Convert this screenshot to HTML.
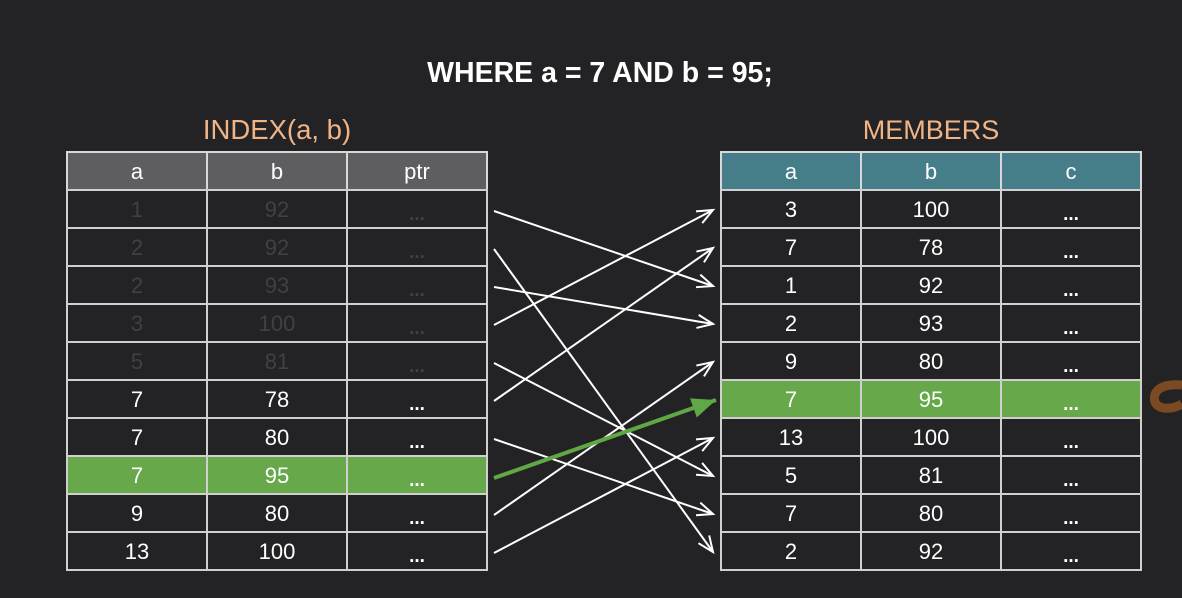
<!DOCTYPE html>
<html><head><meta charset="utf-8"><style>
html,body{margin:0;padding:0;background:#232224;width:1182px;height:598px;overflow:hidden}
svg{display:block;font-family:"Liberation Sans",sans-serif}
</style></head><body>
<svg id="s" width="1182" height="598">
<rect width="1182" height="598" fill="#232224"/>
<text x="600" y="82" text-anchor="middle" fill="#fff" font-size="28.5" font-weight="bold">WHERE a = 7 AND b = 95;</text>
<text x="277" y="139" text-anchor="middle" fill="#f0b487" font-size="27.5">INDEX(a, b)</text>
<text x="931" y="139" text-anchor="middle" fill="#f0b487" font-size="27">MEMBERS</text>
<g id="left"></g>
<g id="right"></g>
<g id="arrows"></g>
<path d="M1182 385 C1160 383 1152 392 1155 402 C1158 410 1172 410 1182 404" fill="none" stroke="#7a4a22" stroke-width="9"/>
</svg>
<script>
const idxA=["1","2","2","3","5","7","7","7","9","13"];
const idxB=["92","92","93","100","81","78","80","95","80","100"];
const idxFaded=[1,1,1,1,1,0,0,0,0,0];
const memA=["3","7","1","2","9","7","13","5","7","2"];
const memB=["100","78","92","93","80","95","100","81","80","92"];
const ptrTarget=[2,9,3,0,7,1,8,5,4,6];
const hiIdx=7, hiMem=5;
const NS="http://www.w3.org/2000/svg";
function mk(t,a,p){const e=document.createElementNS(NS,t);for(const k in a)e.setAttribute(k,a[k]);p.appendChild(e);return e;}
const top0=152,hh=38,rh=38,cw=140;
function rowY(i){return 190+i*rh;}
function table(g,x0,headers,headFill,colA,colB,faded,hi,third){
  for(let c=0;c<3;c++){
    const r=mk('rect',{x:x0+c*cw,y:top0,width:cw,height:hh,fill:headFill,stroke:'#d8d8d8','stroke-width':2},g);
    
    const t=mk('text',{x:x0+c*cw+cw/2,y:top0+27,'text-anchor':'middle',fill:'#fff','font-size':22},g);
    t.textContent=headers[c];
    
  }
  for(let i=0;i<colA.length;i++){
    const y=rowY(i);const col=faded[i]?'#414042':'#fff';
    for(let c=0;c<3;c++){
      const r=mk('rect',{x:x0+c*cw,y:y,width:cw,height:rh,fill:i===hi?'#67a84a':'#232224',stroke:'#d0d0d0','stroke-width':2},g);
      
    }
    const vals=[colA[i],colB[i],third];
    for(let c=0;c<3;c++){
      const t=mk('text',{x:x0+c*cw+cw/2,y:y+(c==2?30:27),'text-anchor':'middle',fill:col,'font-size':c==2?19:22,'font-weight':c==2?'bold':'normal'},g);
      t.textContent=vals[c];
      
    }
  }
}
table(document.getElementById('left'),67,['a','b','ptr'],'#5e5d60',idxA,idxB,idxFaded,hiIdx,'...');
table(document.getElementById('right'),721,['a','b','c'],'#457d88',memA,memB,memA.map(()=>0),hiMem,'...');
const ag=document.getElementById('arrows');
function arrow(x1,y1,x2,y2,col,w,hl){
  const l=mk('line',{x1:x1,y1:y1,x2:x2,y2:y2,stroke:col,'stroke-width':w},ag);
  
  const a=Math.atan2(y2-y1,x2-x1);
  const p=[[x2,y2],[x2-hl*Math.cos(a-0.4),y2-hl*Math.sin(a-0.4)],[x2-hl*Math.cos(a+0.4),y2-hl*Math.sin(a+0.4)]];
  if(col==='#fff'){
    const h=mk('polyline',{points:p[1]+' '+p[0]+' '+p[2],fill:'none',stroke:col,'stroke-width':w},ag);
    
  } else {
    const h=mk('polygon',{points:p.map(q=>q.join(',')).join(' '),fill:col},ag);
    
  }
}
for(let i=0;i<ptrTarget.length;i++){
  if(i===hiIdx)continue;
  arrow(494,rowY(i)+21,713,rowY(ptrTarget[i])+20,'#fff',2,17);
}
arrow(494,rowY(hiIdx)+22,716,rowY(ptrTarget[hiIdx])+20,'#5fa845',4,26);
</script>
</body></html>
